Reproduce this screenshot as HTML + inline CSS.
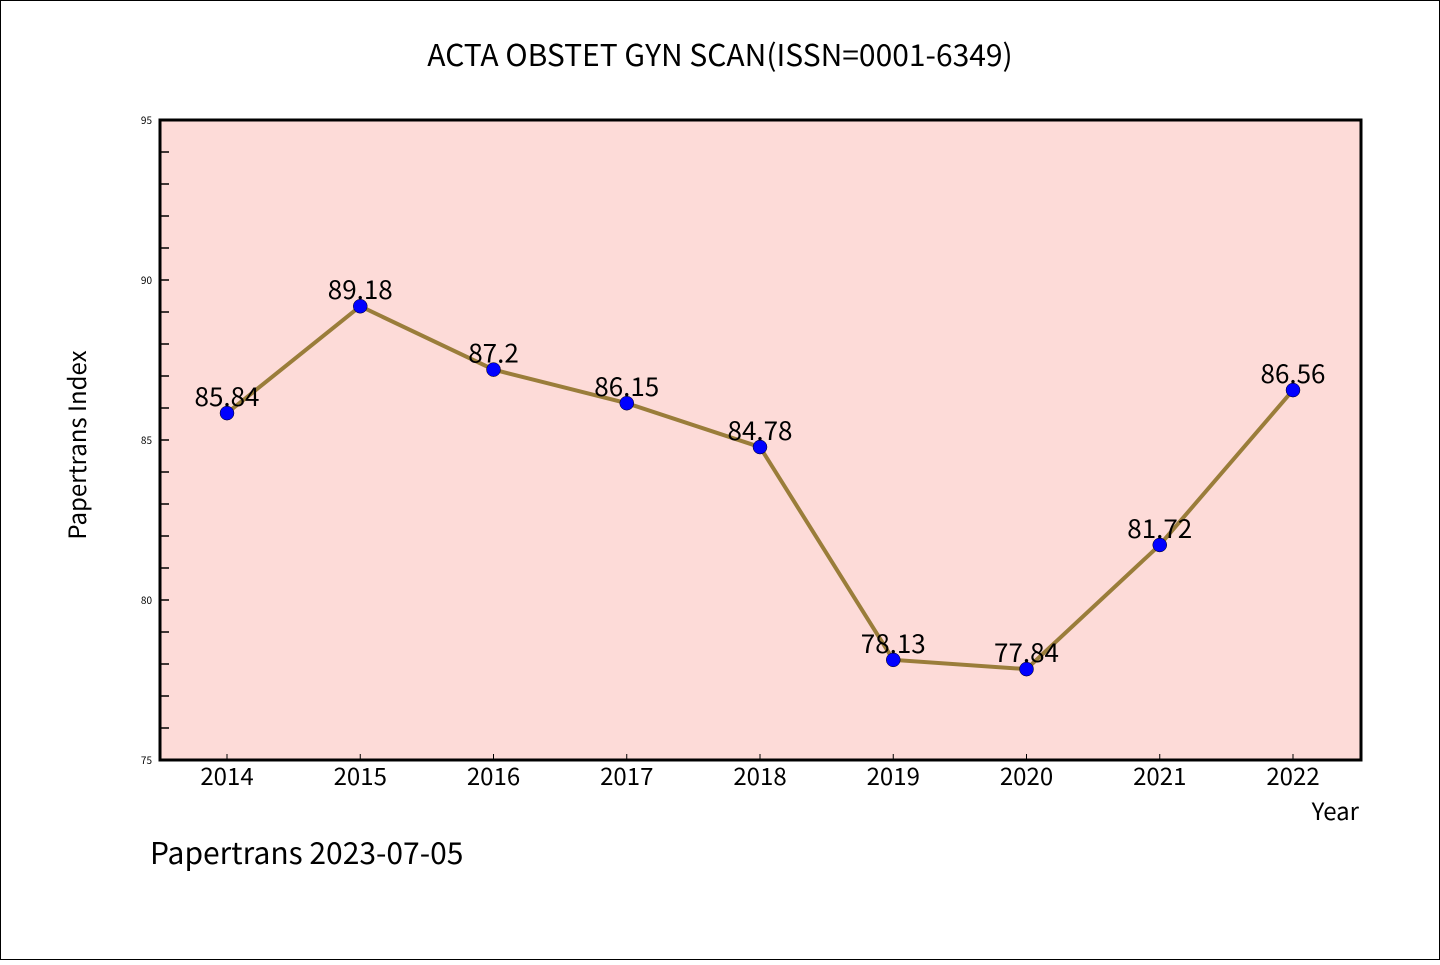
<!DOCTYPE html>
<html><head><meta charset="utf-8"><style>
body{margin:0;background:#fff}
svg text{font-family:"WenQuanYi Zen Hei Mono","WenQuanYi Zen Hei","Noto Sans CJK SC","Liberation Sans",sans-serif}
</style></head><body>
<svg width="1440" height="960" xmlns="http://www.w3.org/2000/svg" id="chart">
<rect x="0.5" y="0.5" width="1439" height="959" fill="#fff" stroke="#000"/>
<text x="720" y="66" text-anchor="middle" font-size="30">ACTA OBSTET GYN SCAN(ISSN=0001-6349)</text>
<rect x="160" y="120" width="1201" height="640" fill="#fddbd8"/>
<g id="yticks"></g>
<g id="xticks"></g>
<g id="series"></g>
<rect x="160" y="120" width="1201" height="640" fill="none" stroke="#000" stroke-width="3"/>
<text x="86" y="445" text-anchor="middle" font-size="24" transform="rotate(-90 86 445)">Papertrans Index</text>
<text x="1359" y="820" text-anchor="end" font-size="24">Year</text>
<text x="150" y="864" font-size="30">Papertrans 2023-07-05</text>
</svg>
<script>
const years=["2014","2015","2016","2017","2018","2019","2020","2021","2022"];
const values=[85.84,89.18,87.2,86.15,84.78,78.13,77.84,81.72,86.56];
const labels=["85.84","89.18","87.2","86.15","84.78","78.13","77.84","81.72","86.56"];
const yTicks=[75,80,85,90,95];
(function(){
const NS="http://www.w3.org/2000/svg";
const yMin=75,yMax=95,pTop=120,pBot=760;
function y(v){return pBot-(v-yMin)/(yMax-yMin)*(pBot-pTop);}
function x(i){return 227+i*(1293-227)/(years.length-1);}
function mk(t,a,p){const e=document.createElementNS(NS,t);for(const k in a)e.setAttribute(k,a[k]);if(p)p.appendChild(e);return e;}
const yg=document.getElementById('yticks'),xg=document.getElementById('xticks'),sg=document.getElementById('series');
for(let v=yMin;v<=yMax;v++){const l=mk('line',{x1:160,x2:169,y1:y(v),y2:y(v),stroke:'#000','stroke-width':1.5},yg);

}
yTicks.forEach(v=>{const t=mk('text',{x:152,y:y(v)+4,'text-anchor':'end','font-size':10},yg);t.textContent=v;

});
years.forEach((yr,i)=>{const l=mk('line',{x1:x(i),x2:x(i),y1:760,y2:754,stroke:'#000','stroke-width':1},xg);


const t=mk('text',{x:x(i),y:785,'text-anchor':'middle','font-size':24},xg);t.textContent=yr;

});
const pl=mk('polyline',{points:values.map((v,i)=>x(i)+','+y(v)).join(' '),fill:'none',stroke:'#9a7d3a','stroke-width':4},sg);


values.forEach((v,i)=>{const c=mk('circle',{cx:x(i),cy:y(v),r:7,fill:'#0000ff',stroke:'#000','stroke-width':0.5},sg);


const t=mk('text',{x:x(i),y:y(v)-7,'text-anchor':'middle','font-size':26},sg);t.textContent=labels[i];

});
})();
</script>
</body></html>
